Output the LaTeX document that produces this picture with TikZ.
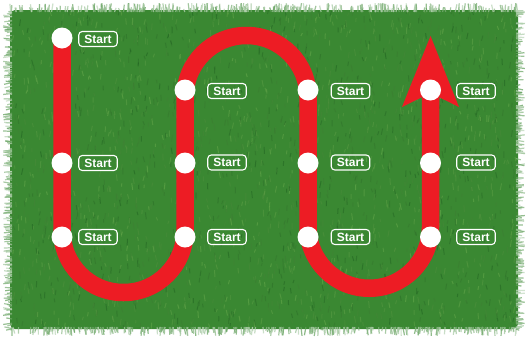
\documentclass[tikz,border=0pt]{standalone}
\usepackage{fontspec}
\newfontfamily\labfont{Liberation Sans}
\definecolor{grassbase}{RGB}{58,136,50}
\definecolor{grassdark}{RGB}{30,96,32}
\definecolor{grasslight}{RGB}{110,175,80}
\definecolor{snakered}{RGB}{237,28,36}
\tikzset{
  snakeline/.style={draw=snakered, line width=17.5pt, line cap=round},
  dot/.style={circle, fill=white, minimum size=21pt, inner sep=0pt},
  lbl/.style={draw=white, line width=1.1pt, rounded corners=3.5pt, minimum width=38.5pt,
    minimum height=15pt, inner sep=0pt, text=white,
    font=\labfont\bfseries\fontsize{12}{12}\selectfont},
  blade/.style={line width=1pt, opacity=0.5},
  edgeblade/.style={line width=1.2pt, opacity=0.75},
}
\begin{document}
\begin{tikzpicture}[x=1pt,y=1pt]
\useasboundingbox (0,0) rectangle (527,-338);
\fill[white] (0,0) rectangle (527,-338);
% grass
\fill[grassbase, rounded corners=5pt] (10,-10) rectangle (518,-329);
\begin{scope}
\clip (10,-10) rectangle (518,-329);
\pgfmathsetseed{42}
\foreach \i in {1,...,2400}{
  \pgfmathsetmacro\bx{10+508*rnd}
  \pgfmathsetmacro\by{-10-319*rnd}
  \pgfmathtruncatemacro\bc{100*rnd}
  \pgfmathsetmacro\bd{1.5*rand}
  \pgfmathsetmacro\bl{3+4*rnd}
  \draw[blade, grasslight!\bc!grassdark] (\bx,\by) -- ++(\bd,\bl);
}
\end{scope}
% fuzzy edges
\foreach \i in {1,...,320}{
  \pgfmathsetmacro\bx{10+508*rnd}
  \pgfmathsetmacro\bd{1.8*rand}
  \pgfmathsetmacro\bl{3+6*rnd}
  \pgfmathtruncatemacro\bc{30+50*rnd}
  \draw[edgeblade, grassbase!\bc!white] (\bx,-12) -- ++(\bd,\bl);
  \pgfmathsetmacro\bx{10+508*rnd}
  \pgfmathsetmacro\bd{1.8*rand}
  \pgfmathsetmacro\bl{3+6*rnd}
  \pgfmathtruncatemacro\bc{30+50*rnd}
  \draw[edgeblade, grassbase!\bc!white] (\bx,-327) -- ++(\bd,-\bl);
}
\foreach \i in {1,...,220}{
  \pgfmathsetmacro\by{-10-319*rnd}
  \pgfmathsetmacro\bd{1.8*rand}
  \pgfmathsetmacro\bl{3+6*rnd}
  \pgfmathtruncatemacro\bc{30+50*rnd}
  \draw[edgeblade, grassbase!\bc!white] (12,\by) -- ++(-\bl,\bd);
  \pgfmathsetmacro\by{-10-319*rnd}
  \pgfmathsetmacro\bd{1.8*rand}
  \pgfmathsetmacro\bl{3+6*rnd}
  \pgfmathtruncatemacro\bc{30+50*rnd}
  \draw[edgeblade, grassbase!\bc!white] (516,\by) -- ++(\bl,\bd);
}
% path coordinates
\coordinate (pa1) at (62,-38);
\coordinate (pa3) at (62,-163);
\coordinate (pa4) at (62,-237);
\coordinate (pb2) at (185,-90);
\coordinate (pb3) at (185,-163);
\coordinate (pb4) at (185,-237);
\coordinate (pc2) at (308,-90);
\coordinate (pc3) at (308,-163);
\coordinate (pc4) at (308,-237);
\coordinate (pd2) at (430.5,-90);
\coordinate (pd3) at (430.5,-163);
\coordinate (pd4) at (430.5,-237);
\coordinate (u1s) at (62,-231);
\coordinate (t1s) at (185,-97);
\coordinate (u2s) at (308,-227);
\coordinate (tail) at (430.5,-96);
\coordinate (tip) at (430.5,-36);
\coordinate (ar) at (459,-107);
\coordinate (an) at (430.5,-93);
\coordinate (al) at (402,-107);
% red snake
\draw[snakeline] (pa1) -- (u1s) arc[start angle=180, end angle=360, radius=61.5]
  -- (t1s) arc[start angle=180, end angle=0, radius=61.5]
  -- (u2s) arc[start angle=180, end angle=360, radius=61.25]
  -- (tail);
\fill[snakered] (tip) -- (ar) -- (an) -- (al) -- cycle;
% dots
\foreach \p in {a1,a3,a4,b2,b3,b4,c2,c3,c4,d2,d3,d4}{
  \node[dot] (n\p) at (p\p) {};
}
% labels
\node[lbl] (la1) at (98,-39) {Start};
\node[lbl] (la3) at (98,-163) {Start};
\node[lbl] (la4) at (98,-237) {Start};
\node[lbl] (lb2) at (227,-91) {Start};
\node[lbl] (lb3) at (227,-162.5) {Start};
\node[lbl] (lb4) at (227,-237) {Start};
\node[lbl] (lc2) at (350.5,-91) {Start};
\node[lbl] (lc3) at (350.5,-162.5) {Start};
\node[lbl] (lc4) at (350.5,-237) {Start};
\node[lbl] (ld2) at (476,-91) {Start};
\node[lbl] (ld3) at (476,-162.5) {Start};
\node[lbl] (ld4) at (476,-237) {Start};
\end{tikzpicture}
\end{document}
